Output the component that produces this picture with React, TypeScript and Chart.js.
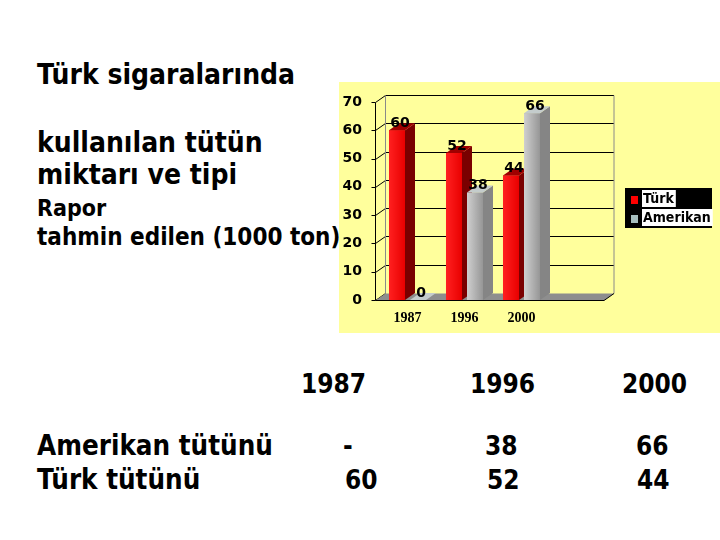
import React, { useEffect, useRef } from "react";
import { Chart, registerables } from "chart.js";

Chart.register(...registerables);

// ---- data ----
const categories = ["1987", "1996", "2000", ""];
const seriesNames = ["Türk", "Amerikan"];
const turkValues: (number | null)[] = [60, 52, 44, null];
const amerikanValues: (number | null)[] = [0, 38, 66, null];
const yMin = 0;
const yMax = 70;
const yStep = 10;

const tableYears = ["1987", "1996", "2000"];
const tableRowLabels = ["Amerikan tütünü", "Türk tütünü"];
const tableAmerikan = ["-", "38", "66"];
const tableTurk = ["60", "52", "44"];

// ---- styles ----
const frontColors = ["#FF0000", "#ABABAB"];
const frontGrad = [
  ["#FF2020", "#E80000"],
  ["#CFCFCF", "#969696"],
];
const sideColors = ["#7A0000", "#858585"];
const topColors = ["#A00000", "#C4CCCC"];
const legendColors = ["#FF0000", "#A6BEBE"];
const DEPTH_X = 10;
const DEPTH_Y = -7;
const AXIS_SHIFT = 4;
const SANS = "'DejaVu Sans Condensed', 'DejaVu Sans', sans-serif";

const threeD = {
  id: "threeD",
  beforeDatasetsDraw(chart: any) {
    const { ctx, chartArea: a } = chart;
    const y = chart.scales.y;
    const ax = Math.round(a.left - AXIS_SHIFT) + 0.5;
    const fr = a.right - 3;
    const y0 = Math.round(y.getPixelForValue(0)) + 0.5;
    const yTop = Math.round(y.getPixelForValue(yMax)) + 0.5;
    ctx.save();
    ctx.lineWidth = 1;
    y.ticks.forEach((t: any) => {
      const py = Math.round(y.getPixelForValue(t.value)) + 0.5;
      ctx.strokeStyle = "#000";
      if (t.value > 0) {
        ctx.beginPath();
        ctx.moveTo(ax + DEPTH_X, py + DEPTH_Y);
        ctx.lineTo(fr + DEPTH_X, py + DEPTH_Y);
        ctx.stroke();
      }
      ctx.beginPath();
      ctx.moveTo(ax - 4, py);
      ctx.lineTo(ax, py);
      ctx.lineTo(ax + DEPTH_X, py + DEPTH_Y);
      ctx.stroke();
    });
    // wall edges
    ctx.strokeStyle = "#8A8A8A";
    ctx.beginPath();
    ctx.moveTo(ax + DEPTH_X, yTop + DEPTH_Y);
    ctx.lineTo(ax + DEPTH_X, y0 + DEPTH_Y);
    ctx.moveTo(fr + DEPTH_X, yTop + DEPTH_Y);
    ctx.lineTo(fr + DEPTH_X, y0 + DEPTH_Y);
    ctx.stroke();
    // floor
    ctx.fillStyle = "#8E8E8E";
    ctx.beginPath();
    ctx.moveTo(ax, y0);
    ctx.lineTo(fr, y0);
    ctx.lineTo(fr + DEPTH_X, y0 + DEPTH_Y);
    ctx.lineTo(ax + DEPTH_X, y0 + DEPTH_Y);
    ctx.closePath();
    ctx.fill();
    ctx.strokeStyle = "#000";
    ctx.beginPath();
    ctx.moveTo(ax, y0);
    ctx.lineTo(fr, y0);
    ctx.lineTo(fr + DEPTH_X, y0 + DEPTH_Y);
    ctx.stroke();
    // front value axis
    ctx.beginPath();
    ctx.moveTo(ax, yTop);
    ctx.lineTo(ax, y0);
    ctx.stroke();
    ctx.restore();
  },
  afterDatasetsDraw(chart: any) {
    const { ctx } = chart;
    const metas = chart.data.datasets.map((_: any, i: number) => chart.getDatasetMeta(i));
    ctx.save();
    for (let i = 0; i < categories.length; i++) {
      metas.forEach((meta: any, d: number) => {
        const v = chart.data.datasets[d].data[i];
        if (v === null || v === undefined) return;
        const el = meta.data[i];
        const { x, y, base, width } = el.getProps(["x", "y", "base", "width"], true);
        const l = x - width / 2;
        const r = x + width / 2;
        const g = ctx.createLinearGradient(l, 0, r, 0);
        g.addColorStop(0, frontGrad[d][0]);
        g.addColorStop(1, frontGrad[d][1]);
        ctx.fillStyle = g;
        ctx.fillRect(l, y, width, base - y);
        ctx.fillStyle = sideColors[d];
        ctx.beginPath();
        ctx.moveTo(r, y);
        ctx.lineTo(r + DEPTH_X, y + DEPTH_Y);
        ctx.lineTo(r + DEPTH_X, base + DEPTH_Y);
        ctx.lineTo(r, base);
        ctx.closePath();
        ctx.fill();
        ctx.fillStyle = topColors[d];
        ctx.beginPath();
        ctx.moveTo(l, y);
        ctx.lineTo(r, y);
        ctx.lineTo(r + DEPTH_X, y + DEPTH_Y);
        ctx.lineTo(l + DEPTH_X, y + DEPTH_Y);
        ctx.closePath();
        ctx.fill();
      });
    }
    ctx.fillStyle = "#000";
    ctx.font = "bold 14px 'DejaVu Sans', sans-serif";
    ctx.textAlign = "center";
    ctx.textBaseline = "middle";
    metas.forEach((meta: any, d: number) => {
      chart.data.datasets[d].data.forEach((v: any, i: number) => {
        if (v === null || v === undefined) return;
        const el = meta.data[i];
        const { x, y } = el.getProps(["x", "y"], true);
        ctx.fillText(String(v), x + 3, y - 7);
      });
    });
    ctx.restore();
  },
  afterDraw(chart: any) {
    const { ctx, chartArea: a } = chart;
    const lx = a.right + 18;
    const ly = a.top + 86;
    ctx.save();
    ctx.fillStyle = "#000";
    ctx.fillRect(lx, ly, 87, 40);
    ctx.font = `bold 14px ${SANS}`;
    ctx.textBaseline = "middle";
    ctx.textAlign = "left";
    chart.data.datasets.forEach((ds: any, d: number) => {
      const rowTop = ly + 2 + d * 19;
      ctx.fillStyle = legendColors[d];
      ctx.fillRect(lx + 6, rowTop + 6, 7, 8);
      const w = ctx.measureText(ds.label).width;
      ctx.fillStyle = "#fff";
      ctx.fillRect(lx + 17, rowTop, w + 3, 17);
      ctx.fillStyle = "#000";
      ctx.fillText(ds.label, lx + 18, rowTop + 9);
    });
    ctx.restore();
  },
};

function ChartBox() {
  const ref = useRef<HTMLCanvasElement | null>(null);
  useEffect(() => {
    if (!ref.current) return;
    const chart = new Chart(ref.current, {
      type: "bar",
      data: {
        labels: categories,
        datasets: [
          { label: seriesNames[0], data: turkValues, backgroundColor: frontColors[0] },
          { label: seriesNames[1], data: amerikanValues, backgroundColor: frontColors[1] },
        ],
      },
      options: {
        animation: false,
        responsive: false,
        maintainAspectRatio: false,
        devicePixelRatio: 1,
        layout: { padding: { top: 20, right: 113, bottom: 0, left: 0 } },
        datasets: { bar: { categoryPercentage: 0.737, barPercentage: 0.762 } },
        plugins: { legend: { display: false }, tooltip: { enabled: false } },
        scales: {
          x: {
            grid: { display: false },
            border: { display: false },
            ticks: {
              color: "#000",
              padding: 2,
              font: { family: "'Liberation Serif', serif", size: 14, weight: "bold" },
            },
            afterFit: (s: any) => {
              s.height = 33;
            },
          },
          y: {
            min: yMin,
            max: yMax,
            ticks: {
              stepSize: yStep,
              color: "#000",
              padding: 9,
              font: { family: "'DejaVu Sans', sans-serif", size: 14, weight: "bold" },
            },
            grid: { display: false },
            border: { display: false },
            afterFit: (s: any) => {
              s.width = 40;
            },
          },
        },
      } as any,
      plugins: [threeD],
    });
    return () => chart.destroy();
  }, []);
  return <canvas ref={ref} width={381} height={251} style={{ display: "block" }} />;
}

function Txt(props: { x: number; base: number; size: number; text: string }) {
  const { x, base, size, text } = props;
  return (
    <div
      style={{
        position: "absolute",
        left: x,
        top: base - 0.846 * size,
        fontFamily: SANS,
        fontWeight: "bold",
        fontSize: size,
        lineHeight: `${size}px`,
        whiteSpace: "nowrap",
        color: "#000",
      }}
    >
      {text}
    </div>
  );
}

const yearX = [301, 470, 622];
const amerX = [343, 485, 636];
const turkX = [345, 487, 637];

export default function App() {
  return (
    <div style={{ position: "fixed", left: 0, top: 0, width: 720, height: 540, background: "#fff", overflow: "hidden" }}>
      <Txt x={37} base={85} size={28} text="Türk sigaralarında" />
      <Txt x={37} base={153} size={28} text="kullanılan tütün" />
      <Txt x={37} base={185} size={28} text="miktarı ve tipi" />
      <Txt x={37} base={216} size={23} text="Rapor" />
      <Txt x={37} base={245} size={24} text="tahmin edilen (1000 ton)" />
      <div style={{ position: "absolute", left: 339, top: 82, width: 381, height: 251, background: "#FFFF9C" }}>
        <ChartBox />
      </div>
      {tableYears.map((t, i) => (
        <Txt key={"y" + i} x={yearX[i]} base={393} size={26} text={t} />
      ))}
      <Txt x={37} base={455} size={27.5} text={tableRowLabels[0]} />
      <Txt x={37} base={489} size={27.5} text={tableRowLabels[1]} />
      {tableAmerikan.map((t, i) => (
        <Txt key={"a" + i} x={amerX[i]} base={455} size={26} text={t} />
      ))}
      {tableTurk.map((t, i) => (
        <Txt key={"t" + i} x={turkX[i]} base={489} size={26} text={t} />
      ))}
    </div>
  );
}
